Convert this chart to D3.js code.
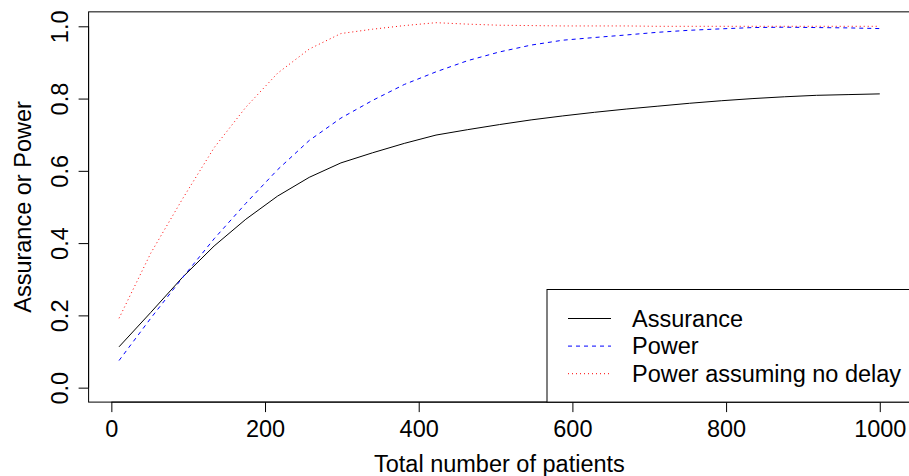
<!DOCTYPE html>
<html>
<head>
<meta charset="utf-8">
<script src="https://cdn.jsdelivr.net/npm/d3@7"></script>
<style>
  html, body { margin: 0; padding: 0; background: #fff; }
  svg { display: block; }
  text { font-family: "Liberation Sans", Arial, Helvetica, sans-serif; fill: #000; }
</style>
</head>
<body>
<svg id="chart" width="909" height="476"></svg>
<script>
// ---- data ----
const patients = [10, 51.25, 92.5, 133.75, 175, 216.25, 257.5, 298.75, 340, 381.25,
  422.5, 463.75, 505, 546.25, 587.5, 628.75, 670, 711.25, 752.5, 793.75,
  835, 876.25, 917.5, 958.75, 1000];
const assurance = [0.113, 0.208, 0.305, 0.392, 0.466, 0.530, 0.582, 0.622, 0.650, 0.676,
  0.699, 0.714, 0.728, 0.741, 0.752, 0.762, 0.771, 0.779, 0.787, 0.794,
  0.800, 0.805, 0.809, 0.811, 0.813];
const power = [0.075, 0.192, 0.304, 0.412, 0.510, 0.603, 0.684, 0.746, 0.795, 0.839,
  0.874, 0.905, 0.929, 0.948, 0.9615, 0.969, 0.976, 0.9835, 0.989, 0.993,
  0.9965, 0.9975, 0.9965, 0.9956, 0.9937];
const powerNoDelay = [0.192, 0.372, 0.522, 0.664, 0.776, 0.870, 0.937, 0.980, 0.992, 1.002,
  1.010, 1.006, 1.003, 1.002, 1.001, 1.001, 1.001, 1.000, 1.000, 1.000,
  1.000, 1.000, 1.000, 1.000, 1.000];
const xTicks = [0, 200, 400, 600, 800, 1000];
const yTicks = [0.0, 0.2, 0.4, 0.6, 0.8, 1.0];
const seriesNames = ["Assurance", "Power", "Power assuming no delay"];
const xTitle = "Total number of patients";
const yTitle = "Assurance or Power";

// ---- layout ----
const svg = d3.select("#chart");
const L = 88.6, R = 910.2, T = 11.85, B = 402.1;
const x = d3.scaleLinear().domain([-29.6, 1039.6]).range([L, R]);
const y = d3.scaleLinear().domain([-0.04, 1.04]).range([B, T]);
const FS = 23.5;

const series = [
  { name: seriesNames[0], values: assurance, color: "#000000", dash: null },
  { name: seriesNames[1], values: power, color: "#0000FF", dash: "4,4" },
  { name: seriesNames[2], values: powerNoDelay, color: "#FF0000", dash: "1,3" }
];

const line = d3.line().x(d => x(d[0])).y(d => y(d[1]));

series.forEach(s => {
  svg.append("path")
    .datum(patients.map((p, i) => [p, s.values[i]]))
    .attr("d", line)
    .attr("fill", "none")
    .attr("stroke", s.color)
    .attr("stroke-width", 1)
    .attr("stroke-dasharray", s.dash);
});

// box
svg.append("rect")
  .attr("x", L).attr("y", T)
  .attr("width", R - L).attr("height", B - T)
  .attr("fill", "none").attr("stroke", "#000").attr("stroke-width", 1);

// x axis
const xAxis = d3.axisBottom(x).tickValues(xTicks).tickSize(10).tickPadding(0)
  .tickFormat(d3.format("d"));
const gx = svg.append("g").attr("transform", `translate(0,${B})`).call(xAxis);
gx.select(".domain").attr("d", `M${x(0)},0H${x(1000)}`).attr("stroke", "#000");
gx.selectAll(".tick line").attr("stroke", "#000");
gx.selectAll(".tick text").attr("dy", null).attr("y", 35).attr("font-size", FS)
  .attr("font-family", "Liberation Sans, Arial, sans-serif").attr("fill", "#000");

// y axis
const yAxis = d3.axisLeft(y).tickValues(yTicks).tickSize(10)
  .tickFormat(d3.format(".1f"));
const gy = svg.append("g").attr("transform", `translate(${L},0)`).call(yAxis);
gy.select(".domain").attr("d", `M0,${y(0)}V${y(1)}`).attr("stroke", "#000");
gy.selectAll(".tick line").attr("stroke", "#000");
gy.selectAll(".tick text")
  .attr("x", null).attr("dy", null)
  .attr("text-anchor", "middle")
  .attr("transform", "translate(-20.3,0) rotate(-90)")
  .attr("font-size", FS)
  .attr("font-family", "Liberation Sans, Arial, sans-serif").attr("fill", "#000");

// titles
svg.append("text")
  .attr("x", (L + R) / 2).attr("y", 471.7)
  .attr("text-anchor", "middle").attr("font-size", FS)
  .text(xTitle);
svg.append("text")
  .attr("transform", `translate(30.7,${(T + B) / 2}) rotate(-90)`)
  .attr("text-anchor", "middle").attr("font-size", FS)
  .text(yTitle);

// legend
const lg = svg.append("g");
lg.append("rect")
  .attr("x", 547).attr("y", 289.5)
  .attr("width", R - 547).attr("height", B - 289.5)
  .attr("fill", "#fff").attr("stroke", "#000").attr("stroke-width", 1);
series.forEach((s, i) => {
  const cy = 318.5 + i * 27.6;
  lg.append("line")
    .attr("x1", 568).attr("x2", 611).attr("y1", cy).attr("y2", cy)
    .attr("stroke", s.color).attr("stroke-width", 1)
    .attr("stroke-dasharray", s.dash);
  lg.append("text")
    .attr("x", 632).attr("y", cy).attr("dy", "0.35em")
    .attr("font-size", FS).text(s.name);
});
</script>
</body>
</html>
